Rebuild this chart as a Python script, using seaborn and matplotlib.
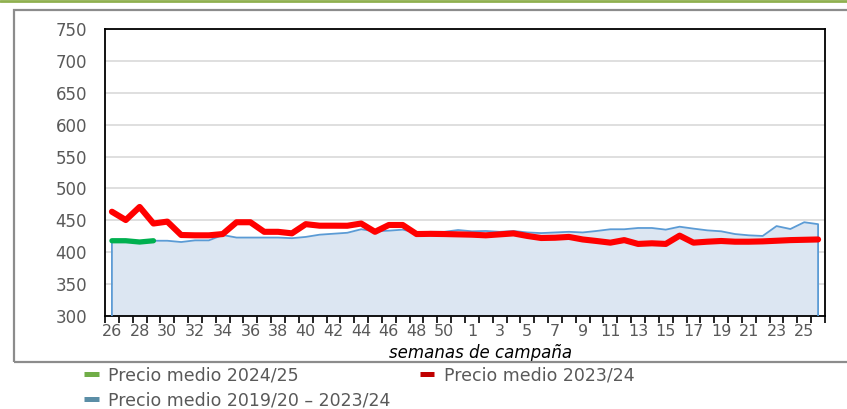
import matplotlib
matplotlib.use("Agg")
import matplotlib.pyplot as plt
from matplotlib.lines import Line2D
from matplotlib.patches import Rectangle
import seaborn as sns
import numpy as np

sns.set_theme(style="white")
plt.rcParams['font.family'] = ['DejaVu Sans']

weeks = [26, 27, 28, 29, 30, 31, 32, 33, 34, 35, 36, 37, 38, 39, 40, 41, 42, 43,
         44, 45, 46, 47, 48, 49, 50, 51, 1, 2, 3, 4, 5, 6, 7, 8, 9, 10, 11, 12,
         13, 14, 15, 16, 17, 18, 19, 20, 21, 22, 23, 24, 25, 26]

precio_2324 = [463.5, 450.5, 471, 445, 448, 427, 426.5, 426.5, 428.5, 447,
               447, 432, 432, 429.6, 444, 441.6, 441.6, 441.5, 445, 432,
               442.7, 442.7, 428.5, 428.8, 428.5, 428, 427.5, 426.5, 428, 429.5,
               425.5, 422.3, 422.7, 424, 420, 417.6, 415, 419, 413, 414,
               413, 426, 415, 416.5, 417.6, 416.5, 416.5, 417, 418, 419,
               419.5, 420]

precio_media = [418.6, 418, 417, 418, 418, 416, 418.6, 418.6, 427, 423,
                423, 423, 423, 422, 424, 427.5, 429, 430.5, 436, 432.8,
                433.8, 435.4, 430.6, 432, 432, 434.8, 432.8, 433.3, 432, 433.3,
                431, 430, 431, 432, 431, 433.3, 436, 436, 438, 438,
                435.4, 440, 437, 434.3, 432.8, 428.5, 426.5, 425.5, 441, 436.4,
                447, 444]

precio_2425 = [418, 418, 416, 418]

labels = ["Precio medio 2024/25", "Precio medio 2023/24",
          "Precio medio 2019/20 – 2023/24"]

y_min, y_max = 300, 750

fig = plt.figure(figsize=(8.47, 4.09), dpi=100)
ax = fig.add_axes([105/847, 1-316/409, 720/847, 287/409])

idx = np.arange(len(weeks))
ax.set_axisbelow(True)
ax.yaxis.grid(True, color="#d9d9d9", linewidth=1.2)
ax.xaxis.grid(False)

ax.fill_between(idx, precio_media, y_min, color="#dce6f2", zorder=2, linewidth=0)
outline_x = np.concatenate([[idx[0]], idx, [idx[-1]]])
outline_y = np.concatenate([[y_min], precio_media, [y_min]])
ax.plot(outline_x, outline_y, color="#5b9bd5", linewidth=1.3, zorder=3,
        solid_joinstyle="round")

sns.lineplot(x=idx, y=precio_2324, ax=ax, color="#ff0000", linewidth=4.4,
             zorder=4, solid_joinstyle="round", solid_capstyle="round")
sns.lineplot(x=idx[:len(precio_2425)], y=precio_2425, ax=ax, color="#00b050",
             linewidth=3.8, zorder=5, solid_capstyle="round")

ax.set_xlim(-0.5, len(weeks) - 0.5)
ax.set_ylim(y_min, y_max)
ax.set_yticks(np.arange(y_min, y_max + 1, 50))
ax.tick_params(axis="y", length=0, pad=13, labelsize=12, labelcolor="#595959")

# tick marks at category boundaries, labels at every other category
ax.set_xticks(np.arange(-0.5, len(weeks), 1))
ax.set_xticklabels([])
ax.tick_params(axis="x", which="major", length=5, width=1.2, color="black",
               direction="out", bottom=True)
ax.set_xticks(idx[::2], [str(w) for w in weeks[::2]], minor=True)
ax.tick_params(axis="x", which="minor", length=0, pad=6, labelsize=11.5,
               labelcolor="#595959")

for s in ax.spines.values():
    s.set_visible(True)
    s.set_color("black")
    s.set_linewidth(1.3)

ax.set_xlabel("semanas de campaña", fontstyle="italic", fontsize=12,
              color="black", va="center")
ax.xaxis.set_label_coords(0.522, -(353 - 316) / 287)
ax.set_ylabel("")

# outer frame and top rule
fig.patches.append(Rectangle((14/847, 1-362/409), 900/847, (362-9.5)/409,
                             transform=fig.transFigure, fill=False,
                             edgecolor="#8c8c8c", linewidth=1.6, zorder=0))
fig.add_artist(Line2D([0, 1], [1-1/409, 1-1/409], transform=fig.transFigure,
                      color="#8fb04f", linewidth=2))

handles = [Line2D([0], [0], color="#70ad47", linewidth=3.6, solid_capstyle="butt"),
           Line2D([0], [0], color="#5b8ea6", linewidth=3.6, solid_capstyle="butt"),
           Line2D([0], [0], color="#c00000", linewidth=3.6, solid_capstyle="butt")]
leg = fig.legend(handles, [labels[0], labels[2], labels[1]], ncol=2,
                 loc="upper left", bbox_to_anchor=(84/847, 1-366/409),
                 frameon=False, fontsize=12.5, handlelength=0.86,
                 handletextpad=0.55, columnspacing=1.65, labelspacing=0.42,
                 borderaxespad=0, borderpad=0)
for t in leg.get_texts():
    t.set_color("#595959")

fig.savefig("out.png", dpi=100)
